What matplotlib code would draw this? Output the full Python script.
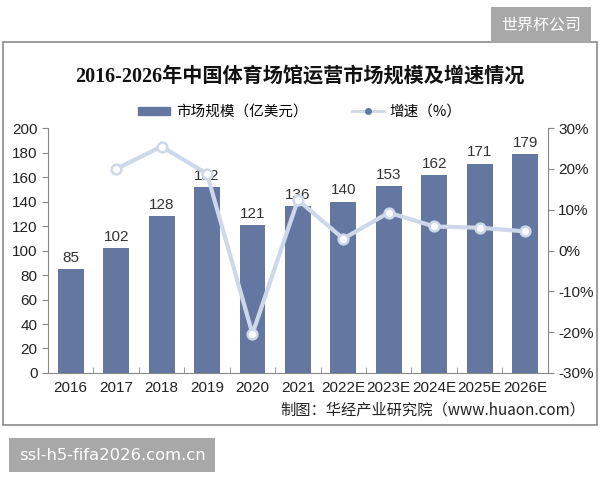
import matplotlib.pyplot as plt
from matplotlib.patches import Rectangle

plt.rcParams['font.family'] = ['Liberation Sans', 'Noto Sans CJK SC', 'DejaVu Sans']

years = ['2016', '2017', '2018', '2019', '2020', '2021',
         '2022E', '2023E', '2024E', '2025E', '2026E']
market = [85, 102, 128, 152, 121, 136, 140, 153, 162, 171, 179]
# growth (%), no value for 2016
growth_years = years[1:]
growth = [20.0, 25.5, 18.8, -20.4, 12.4, 2.9, 9.3, 5.9, 5.6, 4.7]

bar_color = '#6477a0'
line_color = '#cdd8ea'
cjk = ['Noto Sans CJK SC', 'DejaVu Sans']

fig = plt.figure(figsize=(6, 4.8), dpi=100)
fig.patch.set_facecolor('white')

# outer frame of the chart
fig.patches.append(Rectangle((3 / 600, 1 - 425 / 480), 594 / 600, 383 / 480,
                             transform=fig.transFigure, fill=False,
                             edgecolor='#8a8a8a', linewidth=1.2))

ax = fig.add_axes([0.08, 0.223, 0.833, 0.51])
x = range(len(years))
bars = ax.bar(x, market, width=0.57, color=bar_color, zorder=2)
ax.bar_label(bars, padding=3, fontsize=11, color='#333333')
ax.set_ylim(0, 200)
ax.set_yticks(range(0, 201, 20))
ax.set_xlim(-0.5, len(years) - 0.5)
ax.set_xticks(list(x))
ax.set_xticklabels(years)
ax.set_xticks([i + 0.5 for i in range(-1, len(years))], minor=True)
ax.tick_params(axis='x', which='major', length=0, pad=6, labelsize=11, colors='#222222')
ax.tick_params(axis='x', which='minor', length=4, color='#888888', direction='in')
ax.tick_params(axis='y', length=4, color='#888888', labelsize=11, colors='#222222')
for s in ['top', 'right']:
    ax.spines[s].set_visible(False)
ax.spines['left'].set_color('#888888')
ax.spines['bottom'].set_color('#888888')

ax2 = ax.twinx()
gx = list(range(1, len(years)))
ax2.plot(gx, growth, color=line_color, linewidth=3, zorder=3)
ax2.plot(gx, growth, linestyle='none', marker='o', markersize=7,
         markerfacecolor='white', markeredgecolor=line_color, markeredgewidth=1.8, zorder=4)
ax2.set_ylim(-30, 30)
ax2.set_yticks(range(-30, 31, 10))
ax2.set_yticklabels([f'{v}%' for v in range(-30, 31, 10)])
ax2.tick_params(axis='y', length=4, color='#888888', labelsize=11, colors='#222222')
for s in ['top', 'left', 'bottom']:
    ax2.spines[s].set_visible(False)
ax2.spines['right'].set_color('#888888')

# legend
h1 = plt.Rectangle((0, 0), 1, 1, color=bar_color)
h2, = ax2.plot([], [], color=line_color, linewidth=2, marker='o', markersize=4,
               markerfacecolor='#6477a0', markeredgecolor='#6477a0')
fig.legend([h1, h2], ['市场规模（亿美元）', '增速（%）'], loc='center',
           bbox_to_anchor=(0.5, 1 - 112 / 480), ncol=2, frameon=False,
           prop={'family': cjk, 'size': 10.5}, handlelength=2.2, handleheight=0.5,
           columnspacing=3, handletextpad=0.4)

fig.text(0.5, 1 - 77 / 480, '2016-2026年中国体育场馆运营市场规模及增速情况',
         ha='center', va='center', fontsize=14.5, fontweight='bold',
         family=['Liberation Serif', 'Noto Sans CJK SC', 'DejaVu Sans'], color='#111111')

fig.text(585 / 600, 1 - 410 / 480, '制图：华经产业研究院（www.huaon.com）',
         ha='right', va='center', fontsize=11, color='#222222', family=cjk)

# watermark boxes
fig.text(541 / 600, 1 - 25 / 480, '世界杯公司', ha='center', va='center',
         fontsize=11.5, color='white', family=cjk,
         bbox=dict(boxstyle='square,pad=0.6', facecolor='#a8a8a8', edgecolor='none'))
fig.text(112 / 600, 1 - 455 / 480, 'ssl-h5-fifa2026.com.cn', ha='center', va='center',
         fontsize=11.8, color='white', family=['DejaVu Sans'],
         bbox=dict(boxstyle='square,pad=0.6', facecolor='#a8a8a8', edgecolor='none'))

fig.savefig('out.png', dpi=100)
